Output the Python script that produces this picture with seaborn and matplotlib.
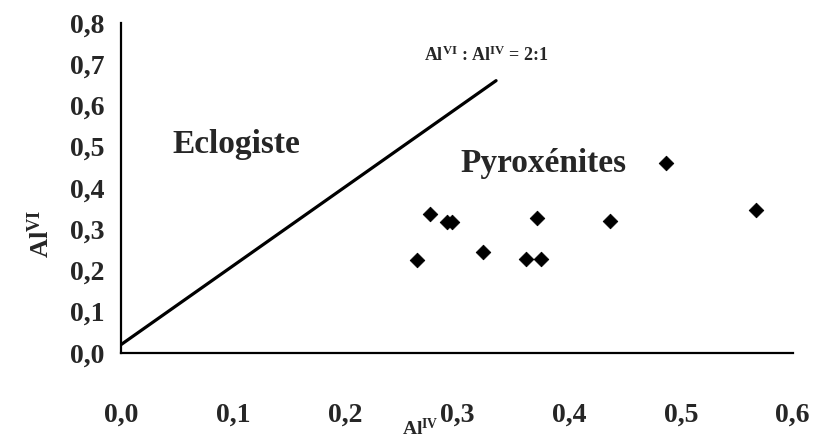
import matplotlib
matplotlib.use("Agg")
import matplotlib.pyplot as plt
import seaborn as sns
import pandas as pd

# DATA
al_iv = [0.276, 0.291, 0.296, 0.372, 0.437, 0.264, 0.323, 0.362, 0.375, 0.487, 0.567]
al_vi = [0.337, 0.318, 0.318, 0.327, 0.320, 0.224, 0.245, 0.228, 0.228, 0.461, 0.347]
line_x = [0.0, 0.335]
line_y = [0.02, 0.66]
xticks = [0.0, 0.1, 0.2, 0.3, 0.4, 0.5, 0.6]
yticks = [0.0, 0.1, 0.2, 0.3, 0.4, 0.5, 0.6, 0.7, 0.8]

df = pd.DataFrame({"AlIV": al_iv, "AlVI": al_vi})
ref = pd.DataFrame({"x": line_x, "y": line_y})

sns.set_style("white")
plt.rcParams["font.family"] = ["Liberation Serif", "DejaVu Serif"]
plt.rcParams["font.weight"] = "bold"
plt.rcParams["mathtext.fontset"] = "custom"
plt.rcParams["mathtext.rm"] = "Liberation Serif:bold"
plt.rcParams["mathtext.bf"] = "Liberation Serif:bold"

fig = plt.figure(figsize=(8.13, 4.41), dpi=100)
ax = fig.add_axes([0.149, 0.2, 0.826, 0.748])

sns.lineplot(data=ref, x="x", y="y", color="black", linewidth=2.3, ax=ax)
sns.scatterplot(data=df, x="AlIV", y="AlVI", marker="D", color="black",
                s=55, edgecolor="black", ax=ax, zorder=3)

ax.set_xlim(0, 0.6)
ax.set_ylim(0, 0.8)
ax.set_xticks(xticks)
ax.set_yticks(yticks)
ax.set_xticklabels([f"{t:.1f}".replace(".", ",") for t in xticks], fontsize=20, fontweight="bold")
ax.set_yticklabels([f"{t:.1f}".replace(".", ",") for t in yticks], fontsize=20, fontweight="bold")
ax.tick_params(axis="x", length=0, pad=36)
ax.tick_params(axis="y", length=0, pad=12)

for s in ["top", "right"]:
    ax.spines[s].set_visible(False)
for s in ["left", "bottom"]:
    ax.spines[s].set_color("black")
    ax.spines[s].set_linewidth(1.6)

ax.set_xlabel(r"$\mathbf{Al^{IV}}$", fontsize=14)
ax.xaxis.set_label_coords(0.445, -0.262)
ax.xaxis.label.set_va("bottom")
ax.set_ylabel(r"$\mathbf{Al^{VI}}$", fontsize=19)
ax.yaxis.set_label_coords(-0.10, 0.36)

ax.text(0.046, 0.505, "Eclogiste", fontsize=24, fontweight="bold", va="center", ha="left")
ax.text(0.303, 0.46, "Pyroxénites", fontsize=24, fontweight="bold", va="center", ha="left")
ax.text(0.271, 0.722, r"$\mathbf{Al^{VI}}$ : $\mathbf{Al^{IV}}$ = 2:1", fontsize=13,
        fontweight="bold", va="center", ha="left")

fig.savefig("out.png", dpi=100)
